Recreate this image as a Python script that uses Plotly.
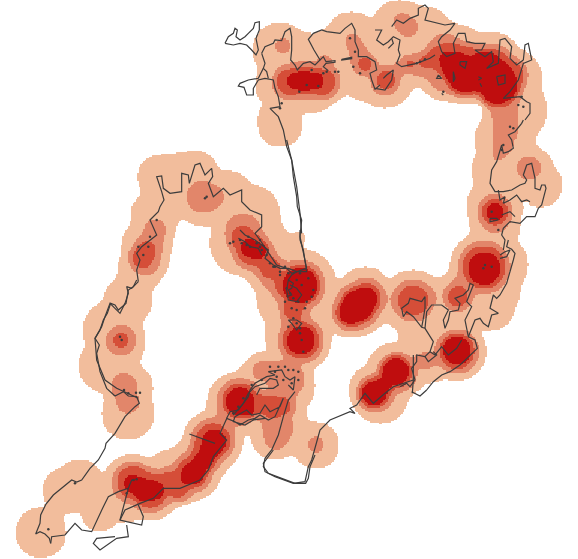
import numpy as np
import plotly.graph_objects as go

# Density bands: each blob is a disc in map units (x, y, radius); map units are reference pixels.
BAND1 = [(41,532,25),(66,490,23),(80,480,21),(100,513,18),(110,495,20),(128,480,24),(125,500,22),(150,490,24),(172,475,26),(195,463,26),(213,440,27),(225,425,18),
 (240,400,25),(262,385,28),(285,385,30),(280,425,28),(275,435,24),(316,445,23),(300,340,28),(300,285,36),(285,300,28),(290,335,25),
 (242,243,32),(228,195,24),(250,215,30),(262,245,28),(275,270,28),(195,175,24),(203,200,26),(160,177,22),(178,175,22),(155,215,24),(147,245,25),(140,270,22),
 (128,300,24),(113,330,30),(118,345,26),(105,365,26),(128,388,25),(128,413,26),
 (280,50,27),(278,85,23),(279,120,21),(280,125,22),(310,85,28),(300,62,30),(352,38,26),(335,60,32),(370,70,32),(385,80,28),(400,65,26),(400,28,28),(425,35,28),(440,50,30),(420,60,26),
 (455,60,35),(490,65,33),(510,80,32),(515,110,32),(505,140,30),(500,170,28),(528,172,26),(540,185,22),(495,205,28),(495,225,25),
 (500,265,28),(495,290,25),(490,305,25),(484,270,26),(460,295,25),(440,300,22),(412,303,30),(425,335,25),(457,352,26),(430,360,22),(395,370,28),(375,390,26),(380,395,28),(405,375,20),
 (365,292,25),(352,310,25),(299,238,7)]
BAND2 = [(121,340,15),(124,386,13),(128,402,11),(145,260,15),(150,245,13),(155,230,11),(203,197,16),(213,197,11),
 (243,232,18),(258,255,17),(275,275,15),(285,290,13),(300,285,21),(295,315,14),(301,340,21),
 (238,403,22),(262,370,9),(275,372,11),(286,379,18),(275,410,17),(278,428,15),(276,437,12),(258,408,10),
 (133,482,19),(150,490,21),(170,482,14),(192,472,19),(213,440,21),(205,455,17),(180,483,13),
 (283,46,8),(292,82,17),(305,82,18),(322,80,17),(325,62,7),(352,40,7),(357,50,9),(363,63,12),(385,82,14),(400,68,6),(412,66,8),(425,65,12),
 (445,52,18),(465,70,25),(490,72,25),(500,80,22),(505,72,18),(447,72,20),(505,115,13),(505,130,13),(503,145,10),(498,155,6),
 (402,22,9),(408,27,10),(529,168,12),(494,212,17),(495,220,13),(367,297,15),(350,312,16),(358,305,21),(413,300,21),(424,297,12),
 (484,267,25),(458,296,14),(464,285,10),(457,351,20),(397,372,18),(377,393,17),(427,360,8),(420,360,6),(316,444,8)]
BAND3 = [(121,340,8),(143,258,10),(147,250,9),(243,238,12),(252,250,15),(270,268,10),(285,285,10),(300,285,20),(293,310,9),(301,340,18),(295,305,8),
 (240,400,17),(273,407,11),(283,405,8),(262,403,8),(133,482,16),(150,490,17),(170,480,9),(192,472,15),(213,440,17),(205,455,13),(178,487,10),
 (305,80,14),(290,82,13),(322,82,13),(365,64,7),(386,80,9),(410,64,5),(425,62,6),(440,58,12),(450,60,17),(465,70,23),(490,72,23),(503,80,18),(500,90,17),(510,75,13),
 (495,212,13),(528,168,4),(366,298,15),(352,311,15),(358,305,18),(413,300,15),(458,296,10),(484,267,21),(457,351,17),(397,372,15),(375,393,14)]
BAND4 = [(133,483,9),(145,490,11),(155,490,9),(193,473,11),(203,460,9),(214,441,12),(209,451,8),(187,477,7),(240,401,14),(247,407,8),
 (250,248,9),(258,251,8),(300,285,17),(301,340,14),(296,81,9),(306,81,9),(316,81,8),
 (455,65,14),(465,75,17),(485,72,20),(500,85,17),(497,90,14),(503,72,9),(445,58,6),(495,212,9),(366,298,11),(350,312,11),(358,305,15),
 (484,268,16),(457,350,14),(396,371,13),(374,393,12),(383,385,7)]
HOLES = [(526,204,3),(527,211,4),(524,216,2)]

BAND_COLORS = ["#f2bd9c", "#e2866a", "#d54e38", "#bf0d0e"]
COAST_COLOR = "#3c3c3c"
RING_WIDTHS = [9, 5, 3]

SW = (0, 280)
NW = (60, 140)
A = (220, 0)
B = (375, 0)
C = (460, 120)
D = (400, 240)
E = (225, 230)
F = (215, 360)
S = (250, 230)

COAST = [
 (SW,[(152,790),(148,775),(135,762),(120,755),(107,762),(120,730),(122,705),(138,672),(160,645),(190,620),(215,600),(230,606),(245,600),(270,565),(295,540),(315,505),(318,490),(345,460),(375,410),(405,380),(418,370),(410,350),(385,348),(370,335),(345,348),(320,325),(305,290),(300,275),(290,220),(298,195),(285,175),(300,150),(310,120),(322,100),(332,70),(345,75),(355,90),(378,70),(385,30),(400,20),(410,0)]),
 (NW,[(235,425),(215,445),(200,440),(205,460),(195,490),(180,520),(165,505),(150,490),(135,530),(125,560),(105,595),(110,660),(135,720),(170,745),(235,775)]),
 (NW,[(235,425),(230,390),(240,360),(230,340),(245,320),(290,285),(270,240),(295,215),(300,200),(312,180),(305,155),(290,110),(305,108),(310,145),(330,160),(365,155),(365,100),(385,105),(388,130),(405,75),(420,70),(435,105),(455,85),(458,110),(445,130),(460,170),(490,145),(510,165),(545,150),(545,185),(570,210),(605,225),(605,260),(585,280),(600,300),(620,330),(650,375),(680,385),(695,400),(740,385)]),
 (NW,[(740,385),(730,340),(720,290),(725,240),(712,200),(710,170),(700,110),(695,60),(680,0)]),
 (SW,[(681,414),(660,460),(680,480),(640,530),(625,570),(600,600),(540,625),(490,625),(460,655),(420,670),(375,690),(360,720),(380,725),(425,735),(430,710),(415,675)]),
 (SW,[(152,790),(155,770),(195,765),(225,730),(245,750),(275,755),(310,680),(325,650),(355,635),(385,625),(395,600),(405,600)]),
 (SW,[(385,625),(375,660),(360,720)]),
 (SW,[(380,735),(385,770),(350,775),(300,810),(280,790),(290,775),(345,770)]),
 (SW,[(568,462),(620,480),(645,490)]),
 (S,[(490,450),(430,470),(405,490),(370,520),(345,490),(320,525),(300,535),(315,550),(300,545),(240,570),(210,600),(185,690),(175,710),(165,755),(130,760),(75,740),(45,725),(40,700),(70,660)]),
 (S,[(485,485),(510,498),(530,480)]),
 (S,[(490,375),(490,450),(487,490)]),
 (A,[(15,130),(25,110),(40,100),(45,85),(52,90),(48,110),(60,120),(75,110),(85,100),(100,85),(105,68),(118,65),(118,90),(108,115),(115,150),(108,165),(95,150),(80,135),(60,130),(40,135),(15,130)]),
 (A,[(125,160),(135,140),(160,130),(165,120),(185,122),(195,95),(210,85),(215,110),(215,150),(212,180),(225,195),(232,210),(250,190),(270,185),(285,195),(300,180),(282,150),(270,125),(265,118),(280,100),(305,90),(320,95),(360,100),(375,85),(395,70),(405,90),(405,125),(415,150),(415,170),(440,170),(465,185),(470,210),(450,220),(455,240),(465,268),(480,255)]),
 (A,[(300,180),(310,170),(318,185),(345,182),(345,187),(318,190),(310,200),(325,212)]),
 (A,[(125,160),(135,190),(130,205),(115,235),(85,240),(60,250),(55,258),(72,262),(80,285),(100,285),(100,265),(115,240),(135,235),(160,240),(165,265),(175,290),(180,320),(150,325),(165,340),(175,350),(190,390),(200,440),(215,480),(230,560),(240,640),(245,700)]),
 (A,[(130,205),(140,215),(145,235)]),
 (A,[(365,178),(395,172),(395,176),(365,180),(365,178)]),
 (B,[(0,90),(20,90),(5,120),(25,135),(40,125),(55,110),(75,120),(70,150),(75,165),(65,190),(80,200),(125,190),(165,175),(180,165)]),
 (B,[(40,145),(55,130),(50,115)]),
 (B,[(50,80),(65,60),(85,70),(105,55),(130,45),(130,25),(150,15),(160,25),(150,60),(185,70),(210,75),(240,70),(225,90),(200,110),(190,125),(200,155),(215,170),(240,160),(235,130),(250,100),(270,100),(275,125),(300,130),(330,130),(320,150),(300,150),(330,170),(350,155),(355,185),(335,205),(370,190),(375,120),(390,115),(410,140),(405,175),(425,195),(445,180),(450,135),(460,130),(470,180),(445,190),(430,240),(405,275),(385,295),(435,290),(455,305),(465,310),(465,340),(450,360)]),
 (B,[(255,185),(275,185),(270,205),(255,195),(255,185)]),
 (B,[(235,215),(240,235),(235,245),(235,215)]),
 (B,[(190,225),(200,235),(185,235),(190,225)]),
 (B,[(310,230),(320,235),(310,240)]),
 (B,[(365,230),(390,225),(390,250),(370,255),(365,230)]),
 (B,[(315,250),(320,260)]),
 (B,[(200,280),(205,285)]),
 (B,[(0,265),(30,270),(50,240),(55,210),(35,225),(25,235)]),
 (C,[(190,0),(185,10),(165,35),(145,45),(155,60),(160,85),(145,95),(130,100),(125,75),(120,90),(110,125),(95,150),(90,190),(105,215),(130,215),(155,210),(180,195),(195,190),(200,180),(190,165),(200,135),(215,130),(225,175),(225,205),(240,210),(245,195),(255,195),(258,205),(245,255),(235,265),(225,290),(200,290),(180,310),(150,305),(130,325),(125,345),(135,360),(130,390)]),
 (C,[(115,210),(120,240),(135,230),(130,250),(150,240),(170,225),(185,245),(200,240),(210,245)]),
 (C,[(90,295),(110,295),(115,300),(90,305),(90,295)]),
 (C,[(125,285),(150,275),(165,290)]),
 (D,[(325,0),(320,20),(335,28),(345,40),(340,60),(320,130),(300,165),(290,175),(280,165),(270,205),(295,220),(275,225),(265,260),(250,250),(240,235),(225,240),(205,290),(225,300),(232,325),(205,350),(180,375),(150,395),(125,405),(100,425),(80,450)]),
 (D,[(300,45),(315,35),(330,30),(320,50),(300,55)]),
 (D,[(205,290),(195,240),(215,200),(200,185),(220,135),(210,130),(205,150),(190,165),(165,175),(180,190),(175,210),(150,215),(145,240),(135,265),(130,240),(145,210),(125,195),(95,195),(80,215),(75,265),(65,262),(40,230),(20,215),(10,230),(5,205),(25,190),(30,175),(65,185),(75,170),(75,205),(70,235),(65,262)]),
 (D,[(75,265),(95,295),(100,305),(90,335),(75,350),(85,365),(110,345),(100,335)]),
 (D,[(185,300),(170,325),(145,345),(125,320),(105,345),(90,335)]),
 (D,[(75,350),(50,345),(50,365),(35,385),(45,420),(30,440),(20,430),(0,440)]),
 (E,[(225,0),(225,30),(235,60),(240,100),(245,125),(215,125),(200,135),(190,150),(185,180),(190,210),(215,215),(230,195),(215,175),(195,165)]),
 (E,[(45,0),(60,15),(90,30),(110,45),(130,60),(120,85),(145,105),(165,115),(190,115),(215,125)]),
 (E,[(190,270),(215,270),(230,280),(215,300),(200,280),(190,270)]),
 (E,[(40,25),(60,35),(75,50),(100,55),(110,75)]),
 (E,[(190,150),(205,160),(200,175),(190,180),(200,195),(185,200)]),
 (F,[(240,95),(220,120),(205,170),(190,225),(170,270),(150,295),(145,320),(160,340),(200,355),(240,370),(272,370),(280,355),(285,320),(300,285)]),
 (F,[(35,175),(45,155),(70,150),(100,110),(105,90),(120,70),(155,50),(180,45),(160,35),(200,30),(210,50),(225,60),(240,50),(235,90),(220,75)]),
 (F,[(35,175),(60,185),(75,195),(100,180),(120,175),(135,165),(160,180),(180,170),(205,115),(195,140),(165,155),(150,135),(135,160),(110,165),(95,150),(60,170),(55,185),(90,195),(115,180),(150,175)]),
 (F,[(55,165),(85,130),(100,100),(120,80),(150,70),(165,55),(185,60),(190,75),(175,85),(135,85),(125,105)]),
]

ISLANDS = [
 (E,[(15,40),(25,35),(50,40),(65,45),(70,20),(95,40),(105,30),(110,60),(125,75),(135,100),(150,110),(165,125),(180,110),(190,130),(185,175),(195,190),(205,205),(220,215),(215,240),(240,235),(180,215),(200,235),(230,165),(215,150),(225,130),(250,145),(260,200),(245,215),(265,180),(190,290),(205,265),(215,280),(225,295),(230,330),(235,365),(225,310)]),
 (F,[(165,20),(190,20),(210,20),(220,30),(235,30),(250,35),(180,35),(140,60),(110,75),(85,115),(70,140),(55,160),(185,50),(205,60),(230,70),(250,60)]),
 (A,[(345,215),(355,215),(320,215),(310,220),(275,210),(260,255),(295,258),(238,275),(405,155),(400,200),(420,220),(390,115),(185,310),(180,325)]),
 (B,[(125,190),(135,185),(150,178),(430,315),(445,320),(440,290),(205,275)]),
 (C,[(150,20),(160,25),(130,75),(125,90),(95,275),(115,330)]),
 (D,[(255,75),(275,80),(250,85)]),
 (SW,[(365,180),(372,330),(385,340),(408,338),(420,338),(145,748),(225,610),(380,640),(400,600),(410,598)]),
 (NW,[(180,590),(235,320),(265,320),(250,345),(270,290),(290,240),(440,170),(435,175),(540,300),(570,320),(600,320),(640,380),(660,405)]),
]

GRID_STEP = 1.5
BLUR_SIGMA = 4.0
EDGE_LEVEL = 0.42


def to_map(sheet, pts):
    return [sheet[0] + p[0] / 3 for p in pts], [sheet[1] + p[1] / 3 for p in pts]


grid_x = np.arange(0, 578, GRID_STEP)
grid_y = np.arange(0, 559, GRID_STEP)
gx, gy = np.meshgrid(grid_x, grid_y)
half = int(3 * BLUR_SIGMA / GRID_STEP)
kernel = np.exp(-0.5 * (np.arange(-half, half + 1) * GRID_STEP / BLUR_SIGMA) ** 2)
kernel /= kernel.sum()


def soft_union(discs):
    mask = np.zeros_like(gx)
    for x, y, r in discs:
        mask[(gx - x) ** 2 + (gy - y) ** 2 <= r ** 2] = 1.0
    mask = np.apply_along_axis(lambda v: np.convolve(v, kernel, mode="same"), 0, mask)
    mask = np.apply_along_axis(lambda v: np.convolve(v, kernel, mode="same"), 1, mask)
    return mask >= EDGE_LEVEL


def grown(discs, by):
    return [(x, y, r + by) for x, y, r in discs]


level = np.zeros_like(gx)
level[soft_union(BAND1 + grown(BAND2, RING_WIDTHS[0]))] = 1
level[soft_union(BAND2 + grown(BAND3, RING_WIDTHS[1]))] = 2
level[soft_union(BAND3 + grown(BAND4, RING_WIDTHS[2]))] = 3
level[soft_union(BAND4)] = 4
for x, y, r in HOLES:
    level[(gx - x) ** 2 + (gy - y) ** 2 <= r ** 2] = 0
level[level == 0] = np.nan

scale = []
for i, c in enumerate(BAND_COLORS):
    scale += [[i / 4, c], [(i + 1) / 4, c]]

fig = go.Figure()
fig.add_trace(go.Heatmap(x=grid_x, y=grid_y, z=level, zmin=0.5, zmax=4.5, colorscale=scale,
                         showscale=False, hoverinfo="skip", zsmooth=False))
for sheet, pts in COAST:
    xs, ys = to_map(sheet, pts)
    fig.add_trace(go.Scatter(x=xs, y=ys, mode="lines", line=dict(color=COAST_COLOR, width=1.2),
                             hoverinfo="skip", showlegend=False))
for sheet, pts in ISLANDS:
    xs, ys = to_map(sheet, pts)
    fig.add_trace(go.Scatter(x=xs, y=ys, mode="markers", marker=dict(color=COAST_COLOR, size=2.5),
                             hoverinfo="skip", showlegend=False))
fig.update_layout(width=578, height=559, margin=dict(l=0, r=0, t=0, b=0),
                  paper_bgcolor="white", plot_bgcolor="white", showlegend=False,
                  xaxis=dict(range=[0, 578], visible=False, fixedrange=True),
                  yaxis=dict(range=[559, 0], visible=False, fixedrange=True))
fig.write_html("out.html", config=dict(displayModeBar=False),
               post_script="document.body.style.margin='0';")
